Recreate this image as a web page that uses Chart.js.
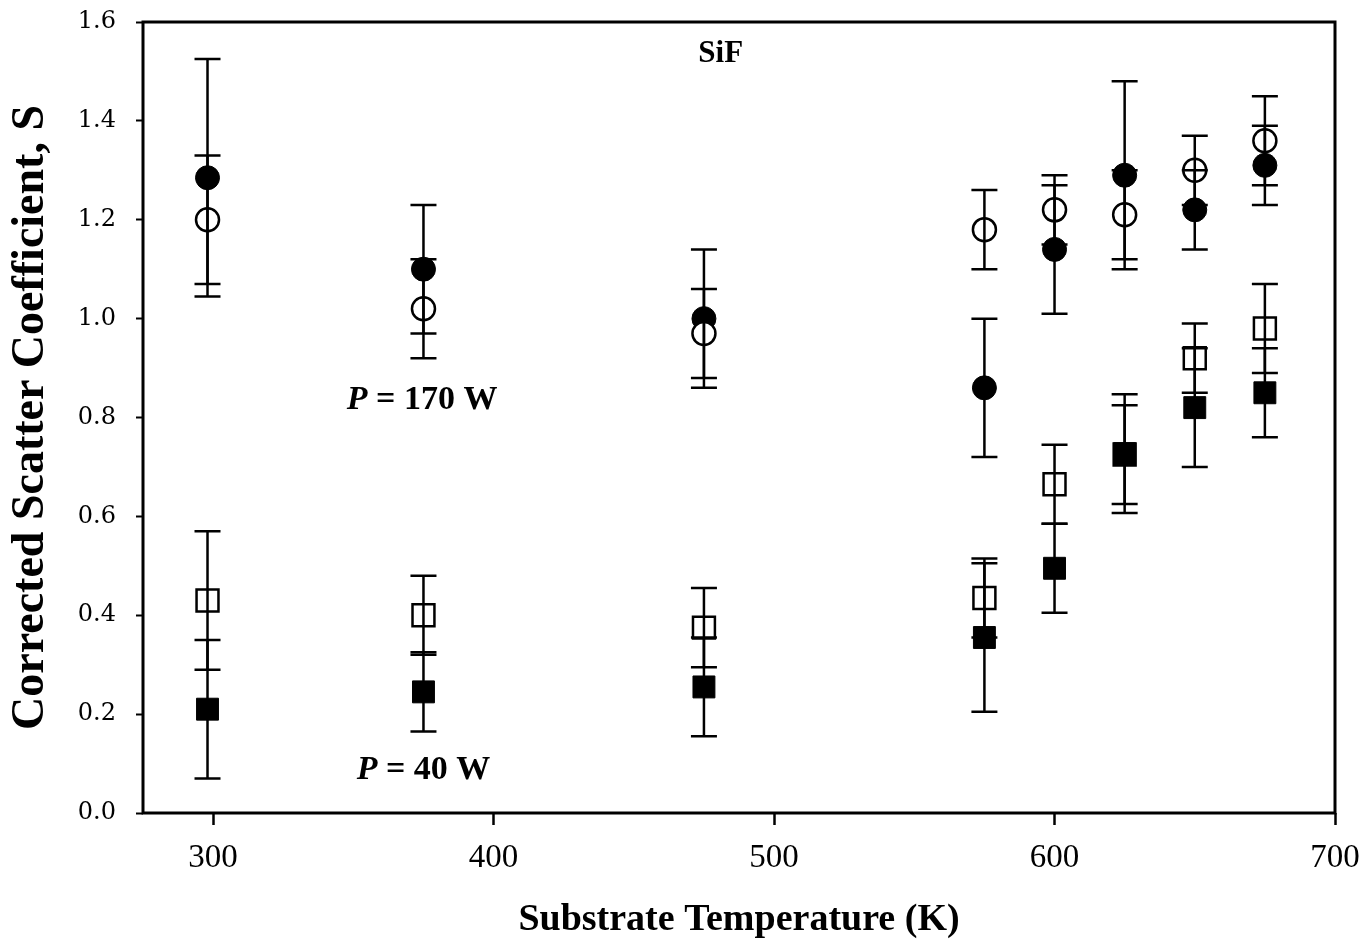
<!DOCTYPE html>
<html>
<head>
<meta charset="utf-8">
<script src="https://cdn.jsdelivr.net/npm/chart.js@4.4.1/dist/chart.umd.min.js"></script>
<style>
  html, body { margin: 0; padding: 0; background: #fff; }
  #wrap { width: 1364px; height: 945px; }
</style>
</head>
<body>
<div id="wrap"><canvas id="chart" width="1364" height="945"></canvas></div>
<script>
// substrate temperature (K)
const temps = [298, 375, 475, 575, 600, 625, 650, 675];

// P = 170 W, open / filled circles
const sOpenCircle = [1.20, 1.02, 0.97, 1.18, 1.22, 1.21, 1.30, 1.36];
const errOpenCircle = [0.13, 0.10, 0.09, 0.08, 0.07, 0.09, 0.07, 0.09];
const sFilledCircle = [1.285, 1.10, 1.00, 0.86, 1.14, 1.29, 1.22, 1.31];
const errFilledCircle = [0.24, 0.13, 0.14, 0.14, 0.13, 0.19, 0.08, 0.08];

// P = 40 W, open / filled squares
const sOpenSquare = [0.43, 0.40, 0.375, 0.435, 0.665, 0.725, 0.92, 0.98];
const errOpenSquare = [0.14, 0.08, 0.08, 0.08, 0.08, 0.10, 0.07, 0.09];
const sFilledSquare = [0.21, 0.245, 0.255, 0.355, 0.495, 0.727, 0.82, 0.85];
const errFilledSquare = [0.14, 0.08, 0.10, 0.15, 0.09, 0.12, 0.12, 0.09];

const xTicks = [300, 400, 500, 600, 700];
const yTicks = [0, 0.2, 0.4, 0.6, 0.8, 1.0, 1.2, 1.4, 1.6];

// text labels placed in data coordinates
const notes = [
  { x: 481, y: 1.535, parts: [['SiF', 'bold']], size: 31 },
  { x: 374.5, y: 0.835, parts: [['P', 'italic bold'], [' = 170 W', 'bold']], size: 34 },
  { x: 375, y: 0.087, parts: [['P', 'italic bold'], [' = 40 W', 'bold']], size: 34 }
];

const toPoints = (vals) => vals.map((v, i) => ({ x: temps[i], y: v }));

const errorBars = {
  id: 'errorBars',
  afterDatasetsDraw(chart) {
    const { ctx, scales: { x, y } } = chart;
    ctx.save();
    ctx.strokeStyle = '#000';
    ctx.lineWidth = 2.5;
    chart.data.datasets.forEach(ds => {
      ds.data.forEach((p, i) => {
        const e = ds.errors[i];
        const px = x.getPixelForValue(p.x);
        const top = y.getPixelForValue(p.y + e);
        const bot = y.getPixelForValue(p.y - e);
        ctx.beginPath();
        ctx.moveTo(px, top); ctx.lineTo(px, bot);
        ctx.moveTo(px - 13, top); ctx.lineTo(px + 13, top);
        ctx.moveTo(px - 13, bot); ctx.lineTo(px + 13, bot);
        ctx.stroke();
      });
    });
    ctx.restore();
  }
};

const frameAndNotes = {
  id: 'frameAndNotes',
  afterDraw(chart) {
    const { ctx, chartArea: a, scales: { x, y } } = chart;
    ctx.save();
    ctx.strokeStyle = '#000';
    ctx.lineWidth = 3;
    ctx.strokeRect(a.left, a.top, a.right - a.left, a.bottom - a.top);

    ctx.fillStyle = '#000';
    ctx.textBaseline = 'middle';
    ctx.textAlign = 'left';
    notes.forEach(n => {
      let total = 0;
      n.parts.forEach(([t, st]) => {
        ctx.font = st + ' ' + n.size + 'px "Liberation Serif"';
        total += ctx.measureText(t).width;
      });
      let cx = x.getPixelForValue(n.x) - total / 2;
      const cy = y.getPixelForValue(n.y);
      n.parts.forEach(([t, st]) => {
        ctx.font = st + ' ' + n.size + 'px "Liberation Serif"';
        ctx.fillText(t, cx, cy);
        cx += ctx.measureText(t).width;
      });
    });
    ctx.restore();
  }
};

new Chart(document.getElementById('chart'), {
  type: 'scatter',
  data: {
    datasets: [{
      label: 'open circles',
      data: toPoints(sOpenCircle),
      errors: errOpenCircle,
      pointStyle: 'circle',
      pointRadius: 11.5,
      pointBorderWidth: 2.5,
      pointBorderColor: '#000',
      pointBackgroundColor: '#fff'
    }, {
      label: 'filled circles',
      data: toPoints(sFilledCircle),
      errors: errFilledCircle,
      pointStyle: 'circle',
      pointRadius: 12,
      pointBorderWidth: 1,
      pointBorderColor: '#000',
      pointBackgroundColor: '#000'
    }, {
      label: 'filled squares',
      data: toPoints(sFilledSquare),
      errors: errFilledSquare,
      pointStyle: 'rect',
      pointRadius: 15.5,
      pointBorderWidth: 1,
      pointBorderColor: '#000',
      pointBackgroundColor: '#000'
    }, {
      label: 'open squares',
      data: toPoints(sOpenSquare),
      errors: errOpenSquare,
      pointStyle: 'rect',
      pointRadius: 15.5,
      pointBorderWidth: 2.5,
      pointBorderColor: '#000',
      pointBackgroundColor: '#fff'
    }]
  },
  options: {
    responsive: false,
    animation: false,
    layout: { padding: { top: 22, right: 29, left: 0, bottom: 0 } },
    plugins: {
      legend: { display: false },
      tooltip: { enabled: false }
    },
    scales: {
      x: {
        type: 'linear',
        min: 275,
        max: 700,
        afterBuildTicks: (scale) => { scale.ticks = xTicks.map(v => ({ value: v })); },
        afterFit: (scale) => {
          scale.height = 132;
          scale.paddingLeft = 0;
          scale.paddingRight = 0;
        },
        border: { display: false },
        grid: { drawOnChartArea: false, drawTicks: true, tickLength: 12, tickWidth: 2.5, tickColor: '#000' },
        ticks: {
          color: '#000',
          padding: 14,
          maxRotation: 0,
          font: { family: '"Liberation Serif"', size: 33 },
          callback: (v) => String(v)
        },
        title: {
          display: true,
          text: 'Substrate Temperature (K)',
          color: '#000',
          padding: { top: 0, bottom: 2 },
          font: { family: '"Liberation Serif"', size: 38, weight: 'bold' }
        }
      },
      y: {
        type: 'linear',
        min: 0,
        max: 1.6,
        afterBuildTicks: (scale) => { scale.ticks = yTicks.map(v => ({ value: v })); },
        afterFit: (scale) => {
          scale.width = 143;
          scale.paddingTop = 0;
          scale.paddingBottom = 0;
        },
        border: { display: false },
        grid: { drawOnChartArea: false, drawTicks: true, tickLength: 7, tickWidth: 2, tickColor: '#000' },
        ticks: {
          color: '#000',
          padding: 20,
          font: { family: '"DejaVu Serif"', size: 24 },
          callback: (v) => Number(v).toFixed(1)
        },
        title: {
          display: true,
          text: 'Corrected Scatter Coefficient, S',
          color: '#000',
          padding: { top: 4, bottom: 0 },
          font: { family: '"Liberation Serif"', size: 46, weight: 'bold' }
        }
      }
    }
  },
  plugins: [errorBars, frameAndNotes]
});
</script>
</body>
</html>
